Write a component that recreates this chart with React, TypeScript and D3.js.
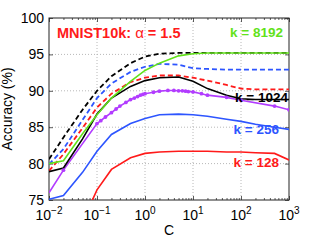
import React, { useEffect, useRef } from "react";
import * as d3 from "d3";

// C values (x axis, log scale)
const cGrid = [0.01, 0.02, 0.05, 0.1, 0.2, 0.5, 1, 2, 5, 10, 20, 50, 100, 200, 500, 1000];
const cPurple = [0.01, 0.02, 0.1, 0.12, 0.15, 0.2, 0.25, 0.3, 0.4, 0.5, 0.6, 0.7, 0.8, 0.9, 1, 1.5, 2, 3, 4, 5, 6, 7, 8, 10, 15, 20, 50, 100, 500, 1000];

// dashed curves
const dashK1024 = [80.6, 83.6, 87.4, 90.0, 92.0, 93.8, 94.7, 95.1, 95.2, 95.2, 95.2, 95.2, 95.2, 95.2, 95.2, 95.2];
const dashK256 = [79.9, 82.0, 86.0, 89.0, 91.0, 92.6, 93.3, 93.7, 93.6, 93.1, 93.0, 92.9, 92.9, 92.9, 92.9, 92.9];
const dashK128 = [79.0, 81.3, 84.9, 87.7, 89.6, 91.2, 91.8, 92.1, 92.1, 91.8, 91.4, 90.8, 90.3, 90.2, 90.2, 90.2];

// solid curves
const solidK8192 = [80.0, 80.4, 84.1, 86.7, 89.0, 91.3, 92.8, 93.8, 94.8, 95.1, 95.2, 95.2, 95.2, 95.2, 95.2, 95.2];
const solidK1024 = [78.9, 79.4, 83.4, 86.8, 89.0, 90.6, 91.4, 91.8, 91.9, 91.3, 90.3, 89.4, 88.9, 88.8, 88.8, 88.8];
const solidK256 = [75.1, 75.6, 78.8, 81.7, 84.0, 85.5, 86.2, 86.7, 86.8, 86.7, 86.5, 86.1, 85.8, 85.4, 85.0, 84.7];
const solidK128 = [66.0, 69.0, 72.0, 76.4, 79.2, 80.8, 81.4, 81.6, 81.7, 81.7, 81.7, 81.6, 81.6, 81.5, 81.4, 80.5];

// purple curve with markers
const purpleVals = [76.0, 79.1, 85.5, 85.9, 86.4, 87.0, 87.5, 87.9, 88.4, 88.8, 89.0, 89.2, 89.4, 89.5, 89.6, 89.8, 89.95, 90.05, 90.05, 90.0, 90.0, 89.95, 89.9, 89.85, 89.6, 89.4, 89.1, 88.7, 87.9, 87.4];

const yTicks = [75, 80, 85, 90, 95, 100];
const xDecades = [-2, -1, 0, 1, 2, 3];

const RED = "#ff1a1a";
const BLUE = "#2d55ff";
const GREEN = "#62e21a";
const PURPLE = "#b23cff";

const App = () => {
  const svgRef = useRef(null);

  useEffect(() => {
    drawChart();
  }, []);

  const drawChart = () => {
    const W = 319;
    const H = 240;
    const margin = { top: 18, right: 30, bottom: 40, left: 49 };
    const width = W - margin.left - margin.right;
    const height = H - margin.top - margin.bottom;
    const font = "'Liberation Sans', Arial, Helvetica, sans-serif";

    const root = d3.select(svgRef.current);
    root.selectAll("*").remove();
    root.attr("width", W).attr("height", H);

    root.append("defs").append("clipPath").attr("id", "plotclip")
      .append("rect").attr("width", width).attr("height", height);

    const svg = root.append("g").attr("transform", `translate(${margin.left},${margin.top})`);

    const x = d3.scaleLog().domain([0.01, 1000]).range([0, width]);
    const y = d3.scaleLinear().domain([75, 100]).range([height, 0]);

    // grid
    const grid = svg.append("g");
    xDecades.slice(1, -1).forEach((e) => {
      grid.append("line")
        .attr("x1", x(Math.pow(10, e))).attr("x2", x(Math.pow(10, e)))
        .attr("y1", 0).attr("y2", height)
        .attr("stroke", "#b8b8b8").attr("stroke-dasharray", "1,2");
    });
    yTicks.slice(1, -1).forEach((t) => {
      grid.append("line")
        .attr("x1", 0).attr("x2", width)
        .attr("y1", y(t)).attr("y2", y(t))
        .attr("stroke", "#b8b8b8").attr("stroke-dasharray", "1,2");
    });

    // minor + major ticks (inward) on bottom and top
    const minor = [];
    xDecades.slice(0, -1).forEach((e) => {
      for (let m = 2; m <= 9; m++) minor.push(m * Math.pow(10, e));
    });
    const xMajor = xDecades.map((e) => Math.pow(10, e));
    const bottom = svg.append("g").attr("transform", `translate(0,${height})`)
      .call(d3.axisTop(x).tickValues(minor).tickSize(2).tickFormat(() => ""));
    const bottom2 = svg.append("g").attr("transform", `translate(0,${height})`)
      .call(d3.axisTop(x).tickValues(xMajor).tickSize(4).tickFormat(() => ""));
    const top = svg.append("g")
      .call(d3.axisBottom(x).tickValues(minor).tickSize(2).tickFormat(() => ""));
    const top2 = svg.append("g")
      .call(d3.axisBottom(x).tickValues(xMajor).tickSize(4).tickFormat(() => ""));
    const left = svg.append("g")
      .call(d3.axisRight(y).tickValues(yTicks).tickSize(4).tickFormat(() => ""));
    const right = svg.append("g").attr("transform", `translate(${width},0)`)
      .call(d3.axisLeft(y).tickValues(yTicks).tickSize(4).tickFormat(() => ""));
    [bottom, bottom2, top, top2, left, right].forEach((g) => {
      g.select(".domain").remove();
      g.selectAll("line").attr("stroke", "#333").attr("stroke-width", 0.8);
    });

    // frame
    svg.append("rect").attr("width", width).attr("height", height)
      .attr("fill", "none").attr("stroke", "#222").attr("stroke-width", 1);

    // y tick labels
    svg.append("g").selectAll("text").data(yTicks).enter().append("text")
      .attr("x", -5).attr("y", (d) => y(d)).attr("dy", "0.36em")
      .attr("text-anchor", "end").attr("font-family", font).attr("font-size", 14)
      .text((d) => d);

    // x tick labels 10^e
    const xl = svg.append("g");
    xDecades.forEach((e) => {
      const t = xl.append("text")
        .attr("x", x(Math.pow(10, e))).attr("y", height + 20)
        .attr("text-anchor", "middle").attr("font-family", font).attr("font-size", 14);
      t.append("tspan").text("10");
      t.append("tspan").attr("dy", -6).attr("font-size", 10).text(e < 0 ? "\u2212" + -e : String(e));
    });

    // axis titles
    svg.append("text").attr("x", width / 2).attr("y", height + 35)
      .attr("text-anchor", "middle").attr("font-family", font).attr("font-size", 14).text("C");
    svg.append("text")
      .attr("transform", `translate(${-37},${height / 2}) rotate(-90)`)
      .attr("text-anchor", "middle").attr("font-family", font).attr("font-size", 14)
      .text("Accuracy (%)");

    // curves
    const plot = svg.append("g").attr("clip-path", "url(#plotclip)");
    const line = d3.line().x((d) => x(d[0])).y((d) => y(d[1]));
    const series = [
      { vals: dashK1024, cs: cGrid, color: "#000", dash: "5,3" },
      { vals: dashK256, cs: cGrid, color: BLUE, dash: "5,3" },
      { vals: dashK128, cs: cGrid, color: RED, dash: "5,3" },
      { vals: solidK256, cs: cGrid, color: BLUE, dash: null },
      { vals: solidK128, cs: cGrid, color: RED, dash: null },
      { vals: purpleVals, cs: cPurple, color: PURPLE, dash: null },
      { vals: solidK1024, cs: cGrid, color: "#000", dash: null },
      { vals: solidK8192, cs: cGrid, color: GREEN, dash: null },
    ];
    series.forEach((s) => {
      plot.append("path")
        .datum(s.cs.map((c, i) => [c, s.vals[i]]))
        .attr("d", line)
        .attr("fill", "none")
        .attr("stroke", s.color)
        .attr("stroke-width", s.dash ? 1.8 : 1.6)
        .attr("stroke-dasharray", s.dash);
    });
    plot.append("g").selectAll("circle")
      .data(cPurple.map((c, i) => [c, purpleVals[i]]).slice(1))
      .enter().append("circle")
      .attr("cx", (d) => x(d[0])).attr("cy", (d) => y(d[1]))
      .attr("r", 1.9).attr("fill", PURPLE);

    // labels
    const title = svg.append("text").attr("x", 8).attr("y", 20)
      .attr("font-family", font).attr("font-size", 14.5).attr("font-weight", "bold").attr("fill", RED);
    title.append("tspan").text("MNIST10k: ");
    title.append("tspan").attr("font-weight", "normal").attr("font-size", 15).text("\u03b1");
    title.append("tspan").text(" = 1.5");

    const kLabels = [
      { text: "k = 8192", color: GREEN, v: 97.4, xr: width - 6 },
      { text: "k = 1024", color: "#000", v: 88.5, xr: width - 1 },
      { text: "k = 256", color: BLUE, v: 84.0, xr: width - 10 },
      { text: "k = 128", color: RED, v: 79.6, xr: width - 10 },
    ];
    svg.append("g").selectAll("text").data(kLabels).enter().append("text")
      .attr("x", (d) => d.xr).attr("y", (d) => y(d.v))
      .attr("text-anchor", "end").attr("font-family", font).attr("font-size", 13.5)
      .attr("font-weight", "bold").attr("fill", (d) => d.color)
      .text((d) => d.text);
  };

  return (
    <div style={{ position: "absolute", left: 0, top: 0, background: "#fff" }}>
      <svg ref={svgRef} style={{ display: "block" }}></svg>
    </div>
  );
};

export default App;
